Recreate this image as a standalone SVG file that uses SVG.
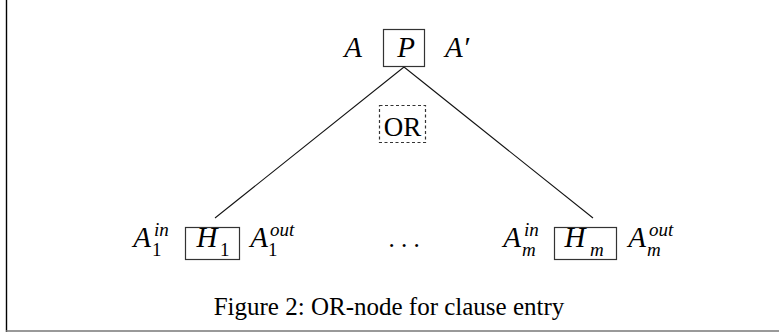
<svg xmlns="http://www.w3.org/2000/svg" width="779" height="333" viewBox="0 0 779 333">
<style>
  .m { font-family: "Liberation Serif", "DejaVu Serif", serif; font-style: italic; font-size: 29px; fill: #000; text-anchor: middle; }
  .s { font-family: "Liberation Serif", "DejaVu Serif", serif; font-style: italic; font-size: 19px; fill: #000; }
  .n { font-family: "Liberation Serif", "DejaVu Serif", serif; font-size: 19px; fill: #000; }
  .r { font-family: "Liberation Serif", "DejaVu Serif", serif; font-size: 25px; fill: #000; }
  .or { font-family: "Liberation Serif", "DejaVu Serif", serif; font-size: 27px; fill: #000; text-anchor: middle; }
  .box { fill: none; stroke: #333; stroke-width: 1.2; }
  .dash { fill: none; stroke: #333; stroke-width: 1.2; stroke-dasharray: 3 2.5; }
  .edge { stroke: #111; stroke-width: 1.1; fill: none; }
</style>
<rect x="0" y="0" width="779" height="333" fill="#fff"/>
<g id="frame">
  <line x1="6.5" y1="0" x2="6.5" y2="332" stroke="#000" stroke-width="1.4"/>
  <line x1="6" y1="331" x2="779" y2="331" stroke="#777" stroke-width="1.6"/>
</g>
<g id="connectors">
  <line class="edge" x1="404" y1="67" x2="215" y2="218"/>
  <line class="edge" x1="404" y1="67" x2="593" y2="218"/>
</g>
<g id="node-P">
  <text class="m" x="353" y="57">A</text>
  <rect class="box" x="383.5" y="29.5" width="41" height="37"/>
  <text class="m" x="406" y="57">P</text>
  <text class="m" x="457" y="57">A′</text>
</g>
<g id="node-OR">
  <rect class="dash" x="379.5" y="105.5" width="46" height="37"/>
  <text class="or" x="402.5" y="136">OR</text>
</g>
<g id="node-H1">
  <text class="m" x="142" y="247">A</text>
  <text class="s" x="154" y="236">in</text>
  <text class="n" x="152" y="256">1</text>
  <rect class="box" x="185.5" y="227.5" width="54" height="32"/>
  <text class="m" x="207" y="247">H</text>
  <text class="n" x="220" y="256">1</text>
  <text class="m" x="259" y="247">A</text>
  <text class="s" x="270" y="236">out</text>
  <text class="n" x="268" y="256">1</text>
</g>
<g id="dots">
  <text class="r" x="404" y="247" text-anchor="middle">. . .</text>
</g>
<g id="node-Hm">
  <text class="m" x="512" y="247">A</text>
  <text class="s" x="524" y="236">in</text>
  <text class="s" x="522" y="256">m</text>
  <rect class="box" x="554.5" y="227.5" width="62" height="32"/>
  <text class="m" x="575" y="247">H</text>
  <text class="s" x="590" y="256">m</text>
  <text class="m" x="637" y="247">A</text>
  <text class="s" x="649" y="236">out</text>
  <text class="s" x="647" y="256">m</text>
</g>
<g id="caption">
  <text class="r" x="389" y="315" text-anchor="middle">Figure 2: OR-node for clause entry</text>
</g>
</svg>
